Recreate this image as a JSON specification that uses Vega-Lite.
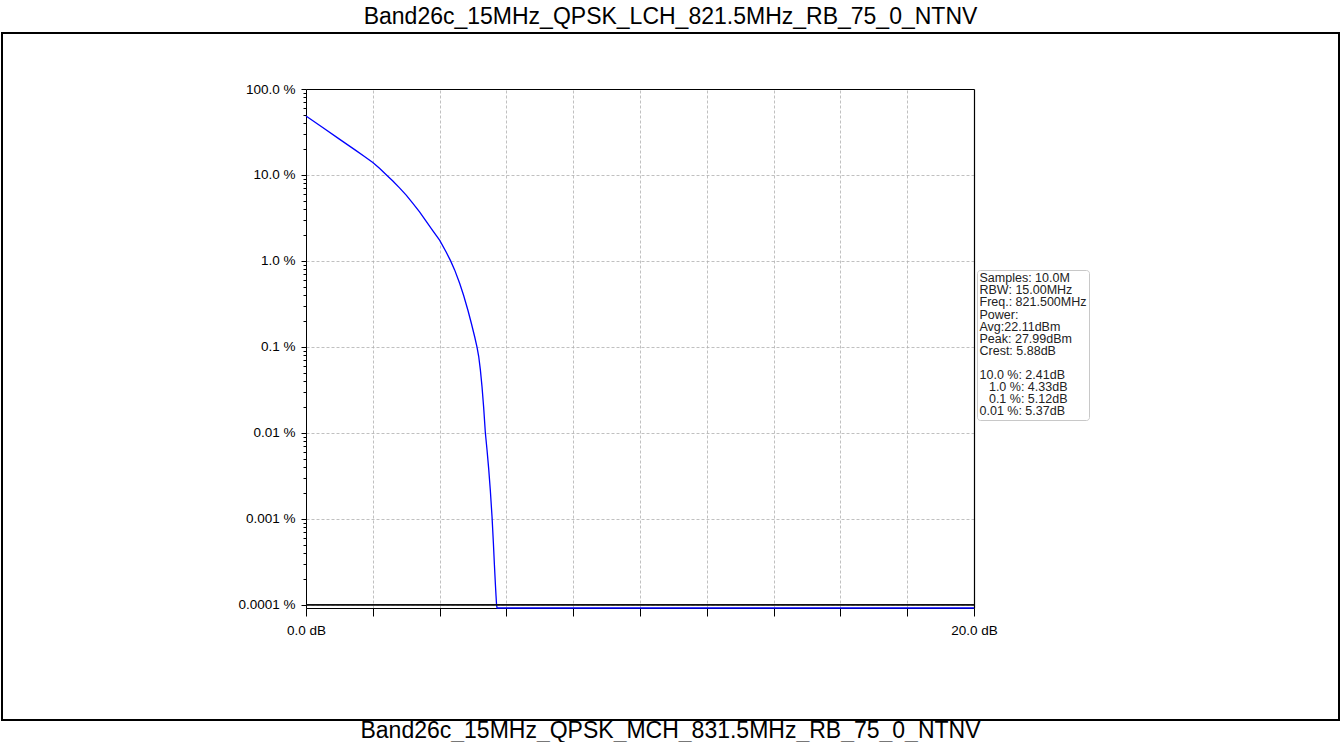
{
  "$schema": "https://vega.github.io/schema/vega-lite/v6.json",
  "background": "white",
  "padding": {"left": 1, "top": 1, "right": 1, "bottom": 0},
  "bounds": "flush",
  "spacing": 0,
  "config": {
    "font": "Liberation Sans",
    "view": {"stroke": "black", "strokeWidth": 2}
  },
  "datasets": {
    "header": [{"t": "Band26c_15MHz_QPSK_LCH_821.5MHz_RB_75_0_NTNV"}],
    "footer": [{"t": "Band26c_15MHz_QPSK_MCH_831.5MHz_RB_75_0_NTNV"}],
    "refline": [{"pct": 0.0001, "from": 0, "to": 20}],
    "ccdf": [
      {"dB": 0, "pct": 48.5},
      {"dB": 0.5, "pct": 35.6},
      {"dB": 1.0, "pct": 26.1},
      {"dB": 1.5, "pct": 19.2},
      {"dB": 1.75, "pct": 16.4},
      {"dB": 2.0, "pct": 14.0},
      {"dB": 2.2, "pct": 11.97},
      {"dB": 2.41, "pct": 10.0},
      {"dB": 2.6, "pct": 8.51},
      {"dB": 2.8, "pct": 7.08},
      {"dB": 3.0, "pct": 5.82},
      {"dB": 3.2, "pct": 4.68},
      {"dB": 3.4, "pct": 3.72},
      {"dB": 3.6, "pct": 2.88},
      {"dB": 3.8, "pct": 2.24},
      {"dB": 4.0, "pct": 1.74},
      {"dB": 4.2, "pct": 1.26},
      {"dB": 4.33, "pct": 1.0},
      {"dB": 4.45, "pct": 0.786},
      {"dB": 4.6, "pct": 0.55},
      {"dB": 4.72, "pct": 0.396},
      {"dB": 4.85, "pct": 0.265},
      {"dB": 4.95, "pct": 0.188},
      {"dB": 5.05, "pct": 0.131},
      {"dB": 5.12, "pct": 0.0993},
      {"dB": 5.17, "pct": 0.0777},
      {"dB": 5.22, "pct": 0.0544},
      {"dB": 5.27, "pct": 0.0343},
      {"dB": 5.32, "pct": 0.0195},
      {"dB": 5.37, "pct": 0.01},
      {"dB": 5.42, "pct": 0.0063},
      {"dB": 5.47, "pct": 0.0038},
      {"dB": 5.52, "pct": 0.0021},
      {"dB": 5.57, "pct": 0.00105},
      {"dB": 5.61, "pct": 0.000525},
      {"dB": 5.64, "pct": 0.000295},
      {"dB": 5.67, "pct": 0.000174},
      {"dB": 5.69, "pct": 0.000126},
      {"dB": 5.705, "pct": 0.0001},
      {"dB": 5.72, "pct": 0.0000915},
      {"dB": 20, "pct": 0.0000915}
    ]
  },
  "vconcat": [
    {
      "width": 1337,
      "height": 32,
      "data": {"name": "header"},
      "mark": {"type": "text", "fontSize": 23, "font": "Liberation Sans", "color": "black"},
      "encoding": {"text": {"field": "t", "type": "nominal"}}
    },
    {
      "width": 1337,
      "height": 687,
      "resolve": {"axis": {"x": "independent", "y": "independent"}},
      "layer": [
        {
          "data": {"name": "ccdf"},
          "mark": {"type": "line", "strokeWidth": 1.3},
          "encoding": {
            "x": {
              "field": "dB", "type": "quantitative",
              "scale": {"domain": [0, 20], "range": [304, 972], "nice": false, "zero": false},
              "axis": {
                "orient": "bottom", "offset": -112, "title": null,
                "values": [0, 2, 4, 6, 8, 10, 12, 14, 16, 18, 20],
                "labelExpr": "datum.value == 0 || datum.value == 20 ? format(datum.value, '.1f') + ' dB' : ''",
                "labelOverlap": false, "labelFlush": false,
                "labelFontSize": 13.5, "labelColor": "black", "labelPadding": 7,
                "tickSize": 8, "tickColor": "black", "domainColor": "black",
                "grid": false
              }
            },
            "y": {
              "field": "pct", "type": "quantitative",
              "scale": {"type": "log", "domain": [0.0000915, 100], "range": [575, 56], "nice": false},
              "axis": {
                "orient": "left", "offset": -304, "title": null,
                "values": [0.0001, 0.001, 0.01, 0.1, 1, 10, 100],
                "labelExpr": "datum.value >= 1 ? format(datum.value, '.1f') + ' %' : datum.value + ' %'",
                "labelOverlap": false, "labelFlush": false,
                "labelFontSize": 13.5, "labelColor": "black", "labelPadding": 6,
                "tickSize": 5, "tickColor": "black", "domainColor": "black",
                "grid": true, "gridColor": "#b0b0b0", "gridDash": [3, 2], "gridWidth": 0.8
              }
            },
            "color": {
              "datum": "info",
              "type": "nominal",
              "scale": {"domain": ["info"], "range": ["#0000ff"]},
              "legend": {
                "orient": "none", "legendX": 975, "legendY": 269, "title": null,
                "fillColor": "white", "strokeColor": "#c8c8c8", "cornerRadius": 3, "padding": 2,
                "symbolSize": 0, "symbolOpacity": 0, "symbolStrokeWidth": 0,
                "labelFontSize": 12.5, "labelFont": "Liberation Sans", "labelColor": "#222",
                "labelOffset": -12, "labelLimit": 300,
                "labelExpr": "['Samples: 10.0M', 'RBW: 15.00MHz', 'Freq.: 821.500MHz', 'Power:', 'Avg:22.11dBm', 'Peak: 27.99dBm', 'Crest: 5.88dB', '\u2800', '10.0 %: 2.41dB', '\u200b\u00a0\u00a0\u20091.0 %: 4.33dB', '\u200b\u00a0\u00a0\u20090.1 %: 5.12dB', '0.01 %: 5.37dB']",
                "encode": {"labels": {"update": {"lineHeight": {"value": 12.1}}}}
              }
            }
          }
        },
        {
          "data": {"name": "refline"},
          "mark": {"type": "rule", "color": "#111111", "strokeWidth": 1.6},
          "encoding": {
            "x": {
              "field": "from", "type": "quantitative",
              "axis": {
                "orient": "top", "offset": -56, "title": null, "ticks": false, "labels": false,
                "values": [0, 2, 4, 6, 8, 10, 12, 14, 16, 18, 20],
                "grid": true, "gridColor": "#b0b0b0", "gridDash": [3, 2], "gridWidth": 0.8,
                "domainColor": "black", "domainWidth": 1.2
              }
            },
            "x2": {"field": "to"},
            "y": {
              "field": "pct", "type": "quantitative",
              "axis": {"orient": "right", "offset": -365, "title": null, "ticks": false, "labels": false, "grid": false, "domainColor": "black", "domainWidth": 1.2}
            }
          }
        },
        {
          "data": {"name": "refline"},
          "mark": {"type": "rule", "color": "#111111", "strokeWidth": 1.6},
          "encoding": {
            "x": {"field": "from", "type": "quantitative", "axis": null},
            "x2": {"field": "to"},
            "y": {
              "field": "pct", "type": "quantitative",
              "axis": {
                "orient": "left", "offset": -304, "title": null, "labels": false, "grid": false, "domain": false,
                "values": [0.0002, 0.0003, 0.0004, 0.0005, 0.0006, 0.0007, 0.0008, 0.0009, 0.002, 0.003, 0.004, 0.005, 0.006, 0.007, 0.008, 0.009, 0.02, 0.03, 0.04, 0.05, 0.06, 0.07, 0.08, 0.09, 0.2, 0.3, 0.4, 0.5, 0.6, 0.7, 0.8, 0.9, 2, 3, 4, 5, 6, 7, 8, 9, 20, 30, 40, 50, 60, 70, 80, 90],
                "tickSize": 3, "tickColor": "black"
              }
            }
          }
        }
      ]
    },
    {
      "width": 1337,
      "height": 22,
      "view": {"stroke": null},
      "data": {"name": "footer"},
      "mark": {"type": "text", "fontSize": 23, "font": "Liberation Sans", "color": "black"},
      "encoding": {"text": {"field": "t", "type": "nominal"}}
    }
  ]
}
